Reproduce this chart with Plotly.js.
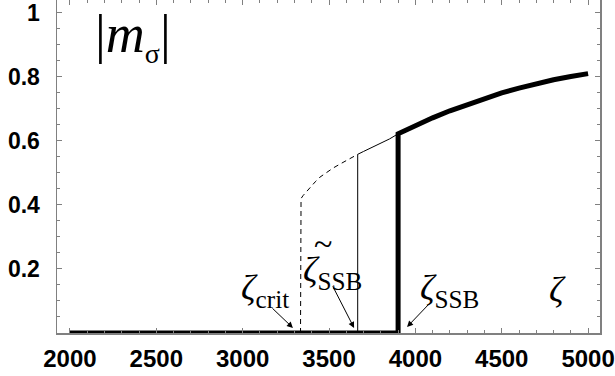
<!DOCTYPE html>
<html><head><meta charset="utf-8">
<script src="https://cdn.plot.ly/plotly-3.0.1.min.js"></script>
<style>html,body{margin:0;padding:0;background:#fff}#plot{width:615px;height:376px}</style>
</head><body><div id="plot"></div>
<script>
// stable branch (thick)
const stableX = [2000, 3900, 3900, 4000, 4100, 4200, 4300, 4400, 4500, 4600, 4700, 4800, 4900, 5000];
const stableY = [0, 0, 0.622, 0.648, 0.672, 0.694, 0.714, 0.733, 0.750, 0.765, 0.779, 0.791, 0.801, 0.810];
// metastable branch (thin solid)
const metaX = [3666, 3666, 3700, 3780, 3850, 3900];
const metaY = [0, 0.558, 0.567, 0.588, 0.606, 0.622];
// unstable branch (dashed)
const unstX = [3335, 3335, 3338, 3351, 3370, 3390, 3420, 3448, 3485, 3523, 3565, 3604, 3640, 3666];
const unstY = [0, 0.410, 0.420, 0.430, 0.442, 0.454, 0.472, 0.487, 0.502, 0.515, 0.528, 0.540, 0.550, 0.558];
const xTicks = [2000, 2500, 3000, 3500, 4000, 4500, 5000];
const yTicks = [0.2, 0.4, 0.6, 0.8, 1];
const yTickText = ['0.2', '0.4', '0.6', '0.8', '1'];

const frame = '#808080';
const traces = [
  {x: unstX, y: unstY, mode: 'lines', line: {color: '#000', width: 1, dash: '5px,4px'}, hoverinfo: 'skip'},
  {x: metaX, y: metaY, mode: 'lines', line: {color: '#000', width: 1}, hoverinfo: 'skip'},
  {x: stableX, y: stableY, mode: 'lines', line: {color: '#000', width: 5}, hoverinfo: 'skip'}
];
const serif = 'Liberation Serif, DejaVu Serif, serif';
const sans = 'Liberation Sans, Arial, sans-serif';
const arrowCommon = {text: '', showarrow: true, arrowhead: 2, arrowsize: 1.2, arrowwidth: 1, arrowcolor: '#000', xref: 'x', yref: 'y', standoff: 0, startstandoff: 0};
const layout = {
  width: 615, height: 376,
  margin: {l: 57, r: 15, t: 0, b: 43},
  paper_bgcolor: '#fff', plot_bgcolor: '#fff',
  showlegend: false,
  font: {family: sans, color: '#000'},
  xaxis: {
    range: [1925, 5069], tickvals: xTicks, ticks: 'inside', ticklen: 5, tickcolor: frame, tickwidth: 1,
    showline: true, linecolor: frame, linewidth: 1.5, mirror: 'ticks', showgrid: false, zeroline: false,
    tickfont: {size: 24, family: sans, weight: 'bold'},
    ticklabelstandoff: 4, ticklabeloverflow: 'allow',
    minor: {dtick: 100, tick0: 0, ticks: 'inside', ticklen: 3, tickcolor: frame, showgrid: false}
  },
  yaxis: {
    range: [0, 1.04], tickvals: yTicks, ticktext: yTickText, ticks: 'inside', ticklen: 5, tickcolor: frame, tickwidth: 1,
    showline: true, linecolor: frame, linewidth: 1.5, mirror: 'ticks', showgrid: false, zeroline: false,
    tickfont: {size: 23, family: sans, weight: 'bold'},
    ticklabelstandoff: 11, ticklabeloverflow: 'allow',
    minor: {dtick: 0.05, tick0: 0, ticks: 'inside', ticklen: 3, tickcolor: frame, showgrid: false}
  },
  annotations: [
    {x: 2365, y: 0.925, xref: 'x', yref: 'y', showarrow: false, text: '|<i>m</i><sub><span style="font-size:28px">σ</span></sub>|', font: {family: serif, size: 54, color: '#000'}},
    {x: 3129, y: 0.134, xref: 'x', yref: 'y', showarrow: false, text: '<i>ζ</i><sub>crit</sub>', font: {family: serif, size: 36, color: '#000'}},
    {x: 3520, y: 0.19, xref: 'x', yref: 'y', showarrow: false, text: '<i>ζ</i><sub>SSB</sub>', font: {family: serif, size: 36, color: '#000'}},
    {x: 3465, y: 0.28, xref: 'x', yref: 'y', showarrow: false, text: '~', font: {family: serif, size: 34, color: '#000'}},
    {x: 4195, y: 0.134, xref: 'x', yref: 'y', showarrow: false, text: '<i>ζ</i><sub>SSB</sub>', font: {family: serif, size: 36, color: '#000'}},
    {x: 4820, y: 0.134, xref: 'x', yref: 'y', showarrow: false, text: '<i>ζ</i>', font: {family: serif, size: 36, color: '#000'}},
    Object.assign({x: 3291, y: 0.016, ax: -22, ay: -21}, arrowCommon),
    Object.assign({x: 3645, y: 0.016, ax: -22, ay: -43}, arrowCommon),
    Object.assign({x: 3952, y: 0.019, ax: 23, ay: -24}, arrowCommon)
  ]
};
Plotly.newPlot('plot', traces, layout, {staticPlot: true, displayModeBar: false});
</script></body></html>
